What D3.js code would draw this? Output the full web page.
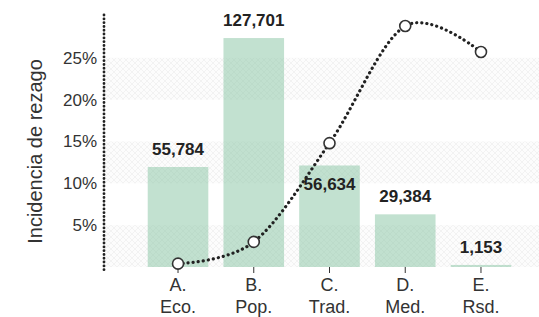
<!DOCTYPE html>
<html>
<head>
<meta charset="utf-8">
<script src="https://cdn.jsdelivr.net/npm/d3@7"></script>
<style>
  html, body { margin: 0; padding: 0; background: #fff; }
  svg { display: block; }
</style>
</head>
<body>
<svg id="chart"></svg>
<script>
// data
const categories = ["A.|Eco.", "B.|Pop.", "C.|Trad.", "D.|Med.", "E.|Rsd."];
const counts = [55784, 127701, 56634, 29384, 1153];
const incidence = [0.004, 0.030, 0.148, 0.288, 0.257];
const pctTicks = [0.05, 0.10, 0.15, 0.20, 0.25];
const bandRanges = [[0, 0.05], [0.10, 0.15], [0.20, 0.25]];

const width = 539, height = 317;
const margin = { top: 16, right: 5, bottom: 49, left: 104 };
const fontFamily = "'Liberation Sans', Arial, sans-serif";

const svg = d3.select("#chart")
    .attr("width", width)
    .attr("height", height)
    .attr("viewBox", [0, 0, width, height]);

// light cross hatch used for the alternating bands
const defs = svg.append("defs");
const pat = defs.append("pattern")
    .attr("id", "hatch")
    .attr("patternUnits", "userSpaceOnUse")
    .attr("width", 6).attr("height", 6);
pat.append("rect").attr("width", 6).attr("height", 6).attr("fill", "#fcfcfc");
pat.append("path")
    .attr("d", "M0,0L6,6M6,0L0,6")
    .attr("stroke", "#f0f0f0")
    .attr("stroke-width", 0.8);

const xscale = d3.scaleBand()
    .domain(categories)
    .range([125, 534])
    .paddingInner(0.2)
    .paddingOuter(0.3);

const ypct = d3.scaleLinear()
    .domain([0, 0.30])
    .range([height - margin.bottom - 1, margin.top]);

const ycount = d3.scaleLinear()
    .domain([0, 140000])
    .range([height - margin.bottom - 1, margin.top]);

const baseY = ypct(0);

// bands
svg.append("g")
    .selectAll("rect")
    .data(bandRanges)
    .join("rect")
    .attr("x", margin.left)
    .attr("width", width - margin.left)
    .attr("y", d => ypct(d[1]))
    .attr("height", d => ypct(d[0]) - ypct(d[1]))
    .attr("fill", "url(#hatch)");

// bars
svg.append("g")
    .selectAll("rect")
    .data(counts)
    .join("rect")
    .attr("x", (d, i) => xscale(categories[i]))
    .attr("width", xscale.bandwidth())
    .attr("y", d => ycount(d))
    .attr("height", d => baseY - ycount(d))
    .attr("fill", "#8fc9a9")
    .attr("fill-opacity", 0.55);

// y axis
svg.append("g")
    .attr("transform", `translate(${margin.left},0)`)
    .call(d3.axisLeft(ypct)
        .tickValues(pctTicks)
        .tickFormat(d => Math.round(d * 100) + "%")
        .tickSize(0)
        .tickPadding(7))
    .call(g => g.select(".domain").remove())
    .call(g => g.selectAll("text")
        .attr("font-family", fontFamily)
        .attr("font-size", 17)
        .attr("fill", "#333"));

svg.append("line")
    .attr("x1", margin.left).attr("x2", margin.left)
    .attr("y1", margin.top - 1).attr("y2", baseY + 5)
    .attr("stroke", "#222")
    .attr("stroke-width", 2.8)
    .attr("stroke-linecap", "round")
    .attr("stroke-dasharray", "0.1,3.7");

svg.append("text")
    .attr("transform", `translate(42,${(margin.top + baseY) / 2 + 10}) rotate(-90)`)
    .attr("text-anchor", "middle")
    .attr("font-family", fontFamily)
    .attr("font-size", 20)
    .attr("fill", "#333")
    .text("Incidencia de rezago");

// x axis
const xg = svg.append("g")
    .attr("transform", `translate(0,${baseY})`)
    .call(d3.axisBottom(xscale).tickSize(6).tickFormat(""))
    .call(g => g.select(".domain").remove())
    .call(g => g.selectAll(".tick line").attr("stroke", "#333"));

xg.selectAll(".tick text").remove();
xg.selectAll(".tick")
    .append("text")
    .attr("text-anchor", "middle")
    .attr("font-family", fontFamily)
    .attr("font-size", 18)
    .attr("fill", "#333")
    .selectAll("tspan")
    .data(d => d.split("|"))
    .join("tspan")
    .attr("x", 0)
    .attr("y", (d, i) => 24 + i * 22)
    .text(d => d);

// line
const cx = i => xscale(categories[i]) + xscale.bandwidth() / 2;
const line = d3.line()
    .x((d, i) => cx(i))
    .y(d => ypct(d))
    .curve(d3.curveCardinal);

svg.append("path")
    .datum(incidence)
    .attr("fill", "none")
    .attr("stroke", "#222")
    .attr("stroke-width", 3.2)
    .attr("stroke-linecap", "round")
    .attr("stroke-dasharray", "0.1,5")
    .attr("d", line);

svg.append("g")
    .selectAll("circle")
    .data(incidence)
    .join("circle")
    .attr("cx", (d, i) => cx(i))
    .attr("cy", d => ypct(d))
    .attr("r", 5.5)
    .attr("fill", "#fff")
    .attr("stroke", "#333")
    .attr("stroke-width", 1.6);

// value labels, pushed inside the bar when they would hit a point
svg.append("g")
    .selectAll("text")
    .data(counts)
    .join("text")
    .attr("x", (d, i) => cx(i))
    .attr("y", (d, i) => {
        const top = ycount(d);
        const py = ypct(incidence[i]);
        let y = top - 12;
        if (py > y - 16 && py < y + 4) y = top + 25;
        return y;
    })
    .attr("text-anchor", "middle")
    .attr("font-family", fontFamily)
    .attr("font-size", 17)
    .attr("font-weight", "bold")
    .attr("fill", "#222")
    .text(d => d3.format(",")(d));
</script>
</body>
</html>
